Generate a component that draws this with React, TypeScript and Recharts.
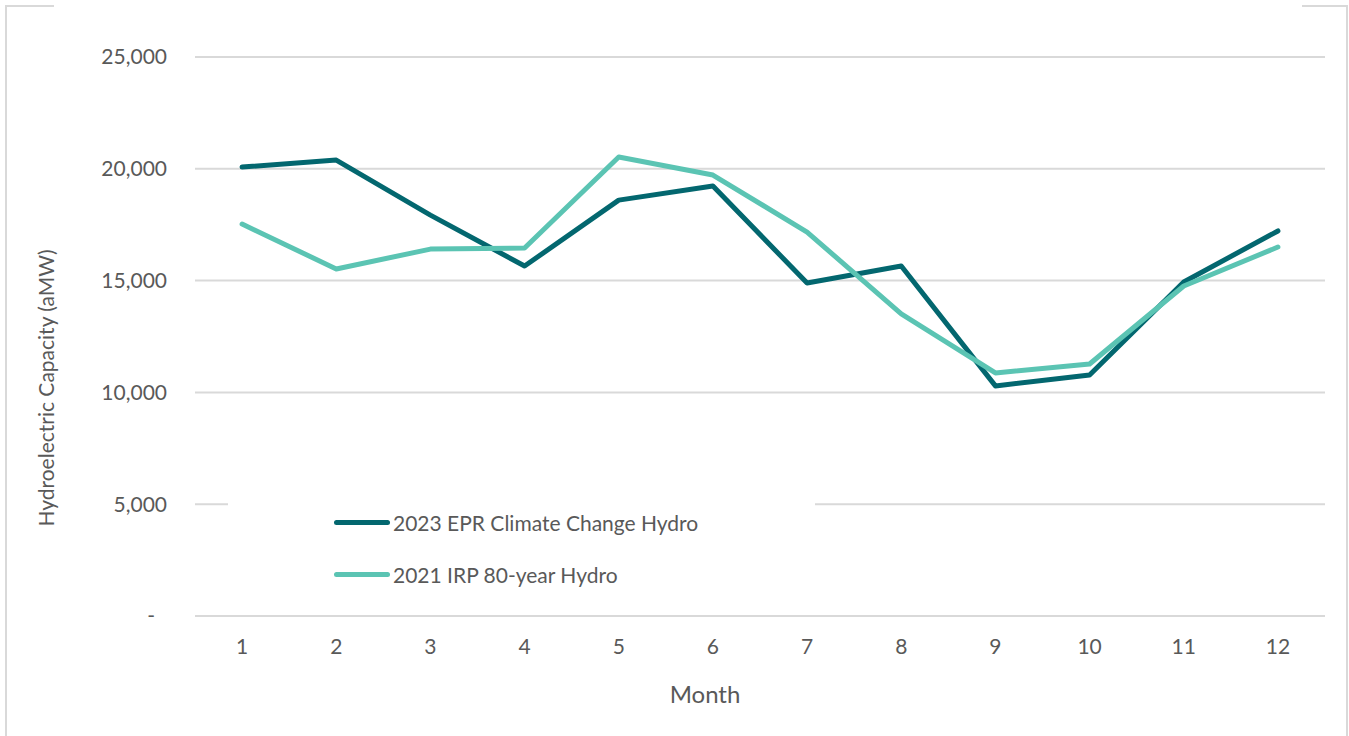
import { LineChart, Line, XAxis, YAxis, CartesianGrid, Legend } from 'recharts';

const months = [1, 2, 3, 4, 5, 6, 7, 8, 9, 10, 11, 12];
const epr2023 = [20080, 20390, 17930, 15650, 18600, 19230, 14890, 15650, 10290, 10780, 14940, 17220];
const irp2021 = [17530, 15520, 16410, 16460, 20530, 19720, 17170, 13510, 10870, 11270, 14760, 16500];
const yTicks = [0, 5000, 10000, 15000, 20000, 25000];

const SERIES = [
  { key: 'epr', name: '2023 EPR Climate Change Hydro', color: '#03676F' },
  { key: 'irp', name: '2021 IRP 80-year Hydro', color: '#5BC4B3' },
];

const data = months.map((m, i) => ({ month: m, epr: epr2023[i], irp: irp2021[i] }));

const C = {
  ink: '#595959', grid: '#D9D9D9', border: '#D9D9D9',
  font: "Lato, 'Open Sans', sans-serif",
};

function YTick({ x, y, payload }: any) {
  const v = payload.value as number;
  return (
    <text x={v === 0 ? x - 12 : x} y={y} dy="0.35em" textAnchor="end"
      fontFamily={C.font} fontSize={21} fill={C.ink}>
      {v === 0 ? '-' : v.toLocaleString('en-US')}
    </text>
  );
}

function LegendBox() {
  return (
    <div style={{ background: '#fff', width: 587, height: 104, paddingTop: 2,
      boxSizing: 'border-box', fontFamily: C.font, fontSize: 21, color: C.ink }}>
      {SERIES.map(s => (
        <div key={s.key} style={{ display: 'flex', alignItems: 'center', height: 52, marginLeft: 106 }}>
          <div style={{ width: 56, height: 5, borderRadius: 3, background: s.color, marginRight: 3 }} />
          <span>{s.name}</span>
        </div>
      ))}
    </div>
  );
}

export default function App() {
  return (
    <div style={{ position: 'absolute', left: 0, top: 0, width: 1349, height: 736, background: '#fff' }}>
      {/* chart frame, partly cut in the original */}
      <div style={{ position: 'absolute', left: 5, top: 5, width: 2, height: 731, background: C.border }} />
      <div style={{ position: 'absolute', left: 1346, top: 5, width: 2, height: 731, background: C.border }} />
      <div style={{ position: 'absolute', left: 5, top: 5, width: 49, height: 2, background: C.border }} />
      <div style={{ position: 'absolute', left: 1302, top: 5, width: 46, height: 2, background: C.border }} />

      <LineChart width={1349} height={736} data={data}
        margin={{ top: 57, right: 24, left: 115, bottom: 80 }}
        style={{ position: 'absolute', left: 0, top: 0 }}>
        <CartesianGrid horizontal vertical={false} stroke={C.grid} strokeWidth={2} />
        <XAxis dataKey="month" type="number" domain={[0.5, 12.5]} ticks={months}
          axisLine={false} tickLine={false} tickSize={0} tickMargin={23} height={40}
          tick={{ fontFamily: C.font, fontSize: 21, fill: C.ink }}
          label={{ content: () => (
            <text x={705} y={695} dy="0.35em" textAnchor="middle" fontFamily={C.font}
              fontSize={24} fill={C.ink}>Month</text>
          ) }} />
        <YAxis type="number" domain={[0, 25000]} ticks={yTicks} width={80}
          axisLine={false} tickLine={false} tickSize={0} tickMargin={28}
          tick={<YTick />}
          label={{ content: () => (
            <text x={47} y={388} dy="0.35em" textAnchor="middle" fontFamily={C.font}
              fontSize={21} fill={C.ink} transform="rotate(-90 47 388)">
              Hydroelectric Capacity (aMW)
            </text>
          ) }} />
        <Legend content={<LegendBox />} layout="horizontal" verticalAlign="middle" align="center"
          wrapperStyle={{ position: 'absolute', left: 228, top: 494, width: 587, height: 104 }} />
        {SERIES.map(s => (
          <Line key={s.key} dataKey={s.key} name={s.name} stroke={s.color} strokeWidth={5}
            strokeLinecap="round" strokeLinejoin="round" dot={false} activeDot={false}
            isAnimationActive={false} />
        ))}
      </LineChart>
    </div>
  );
}
